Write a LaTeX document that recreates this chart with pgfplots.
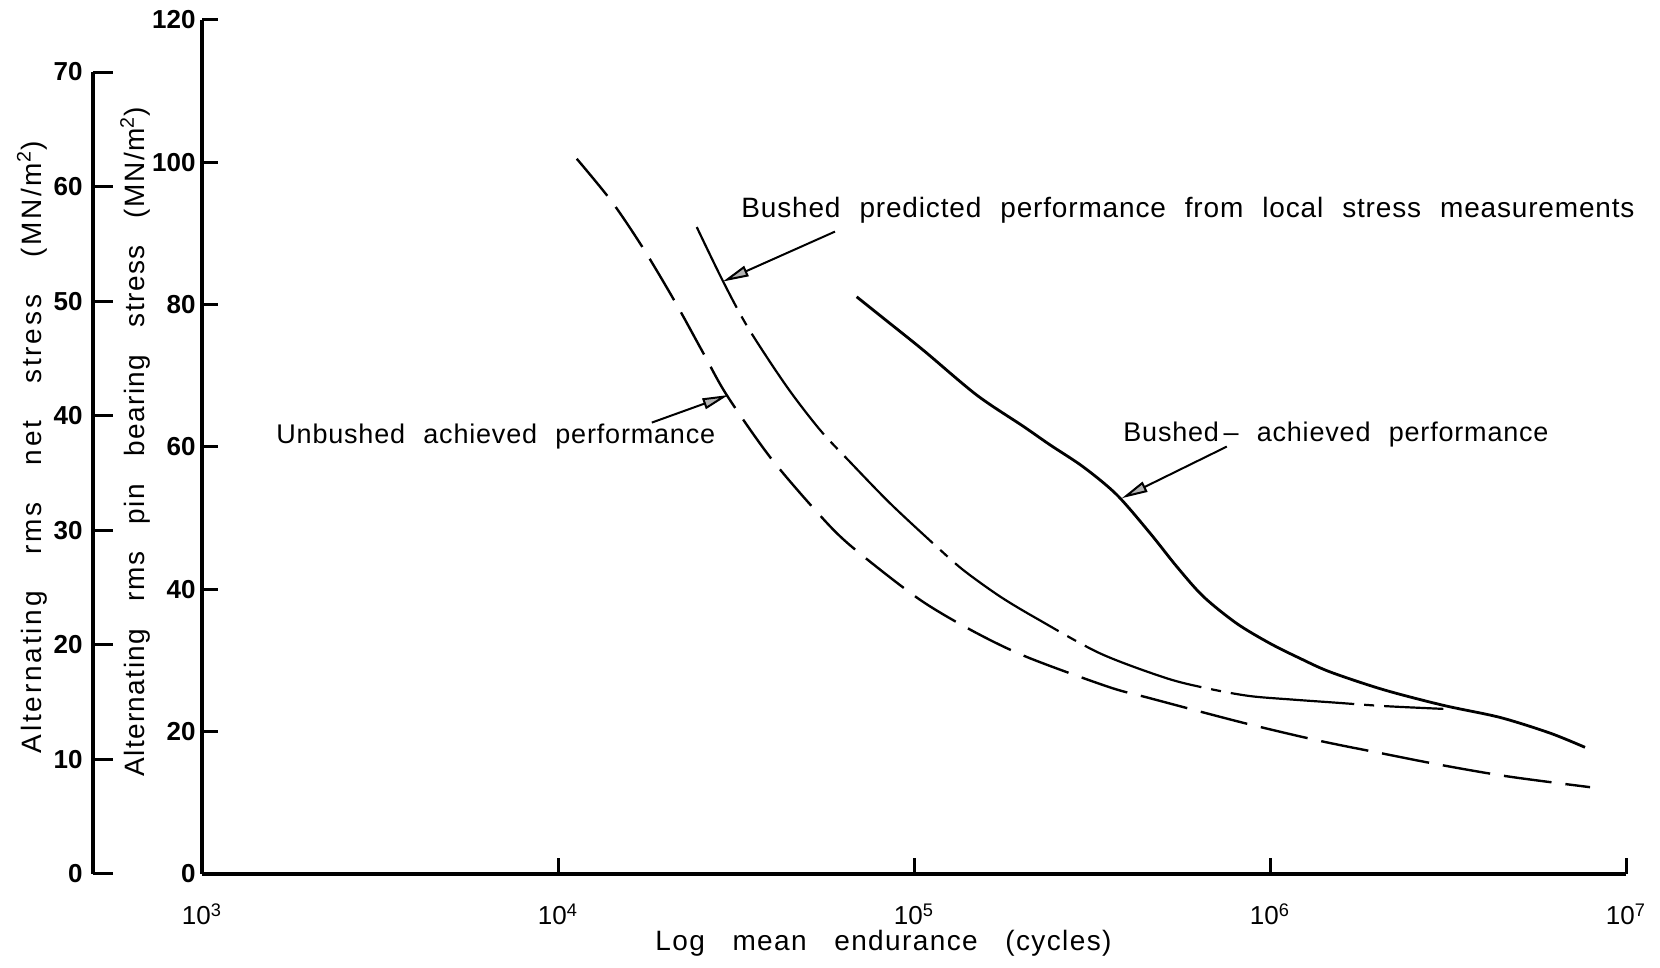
\documentclass[border=0pt]{standalone}
\usepackage{fontspec}
\setmainfont{Liberation Sans}
\newfontfamily\lblfont{Liberation Sans}[LetterSpace=5,WordSpace=3]
\newfontfamily\lblwide{Liberation Sans}[LetterSpace=10,WordSpace=3.5]
\newfontfamily\annfont{Liberation Sans}[LetterSpace=3,WordSpace=2.2]
\usepackage{pgfplots}
\pgfplotsset{compat=1.18}
\usetikzlibrary{arrows.meta}

\newcommand{\tkfont}{\fontsize{13}{13}\selectfont\bfseries}
\newcommand{\lbl}{\lblfont\fontsize{14}{16}\selectfont}
\newcommand{\lblw}{\lblwide\fontsize{14}{16}\selectfont}

\begin{document}
\begin{tikzpicture}
\useasboundingbox (-101pt,-47pt) rectangle (729pt,437pt);

% outer scale: net stress
\begin{axis}[
    at={(-54.5pt,0pt)}, anchor=south west,
    scale only axis, width=1pt, height=401pt,
    xmin=0, xmax=1, ymin=0, ymax=70,
    axis y line=left, axis x line=none,
    axis line style={-, line width=2pt},
    xtick=\empty,
    ytick={0,10,...,70},
    tick align=inside, major tick length=10pt,
    tick style={line width=1.5pt, black},
    /pgf/number format/assume math mode=true,
    yticklabel style={font=\tkfont, anchor=east, inner sep=0pt, xshift=-5pt},
    ylabel={Alternating rms net stress (MN/m\textsuperscript{2})},
    ylabel style={font=\lblw, at={(axis description cs:-30.5,0.532)}, anchor=center},
]
\end{axis}

% main axis: pin bearing stress
\begin{axis}[
    at={(0pt,0pt)}, anchor=south west,
    scale only axis, width=712pt, height=427pt,
    xmode=log, xmin=1e3, xmax=1e7, ymin=0, ymax=120,
    axis lines=left,
    axis line style={-, line width=2pt},
    xtick={1e3,1e4,1e5,1e6,1e7},
    xticklabels={10\textsuperscript{3},10\textsuperscript{4},10\textsuperscript{5},10\textsuperscript{6},10\textsuperscript{7}},
    xminorticks=false,
    ytick={0,20,...,120},
    tick align=inside, major tick length=8pt,
    tick style={line width=1.5pt, black},
    /pgf/number format/assume math mode=true,
    yticklabel style={font=\tkfont, anchor=east, inner sep=0pt, xshift=-3pt},
    xticklabel style={font=\fontsize{13}{13}\selectfont, anchor=base, inner sep=0pt, yshift=-25.5pt},
    xlabel={Log mean endurance (cycles)},
    xlabel style={font=\lbl, at={(axis description cs:0.4786,0)}, anchor=base, yshift=-38.5pt},
    ylabel={Alternating rms pin bearing stress (MN/m\textsuperscript{2})},
    ylabel style={font=\lbl, at={(axis description cs:-0.047,0.506)}, anchor=center},
    clip=false,
]
% unbushed achieved performance
\addplot[black, line width=1.2pt, smooth, dash pattern=on 24pt off 7pt] coordinates {
 (1.129e4,100.5) (1.415e4,94.5) (1.736e4,87.9) (2.132e4,80.4) (2.559e4,73.2)
 (2.978e4,67.3) (3.939e4,58.6) (5.329e4,50.9) (6.610e4,46.2) (1.028e5,38.7)
 (1.468e5,34.1) (2.073e5,30.5) (3.514e5,26.3) (4.602e5,24.7) (8.326e5,21.3)
 (1.353e6,18.8) (2.037e6,17.0) (3.036e6,15.3) (4.670e6,13.7) (7.925e6,12.2)
};
% bushed predicted performance
\addplot[black, line width=1.1pt, smooth, dash pattern=on 62pt off 5pt on 5pt off 5pt, dash phase=17pt] coordinates {
 (2.453e4,90.9) (2.913e4,83.2) (3.424e4,76.7) (4.389e4,68.5) (5.445e4,62.4)
 (6.610e4,57.9) (8.562e4,52.1) (1.146e5,46.2) (1.376e5,42.7) (1.744e5,39.0)
 (2.211e5,35.9) (3.331e5,31.0) (5.128e5,27.5) (6.785e5,26.0) (8.785e5,25.0)
 (1.162e6,24.5) (1.506e6,24.1) (2.082e6,23.6) (3.068e6,23.2)
};
% bushed achieved performance
\addplot[black, line width=1.4pt, smooth] coordinates {
 (6.902e4,81.1) (8.202e4,78.1) (1.062e5,73.6) (1.500e5,67.3) (2.028e5,62.9)
 (2.410e5,60.3) (2.989e5,57.2) (3.710e5,53.3) (4.602e5,47.9) (5.470e5,43.2)
 (6.494e5,39.0) (8.064e5,35.2) (1.000e6,32.4) (1.214e6,30.3) (1.474e6,28.4)
 (2.082e6,25.9) (3.068e6,23.7) (4.427e6,22.0) (6.117e6,19.8) (7.671e6,17.8)
};
\end{axis}

% annotations
\tikzset{ptr/.style={line width=1pt, -{Triangle[length=13pt,width=5.5pt,fill=gray!60]}}}
\node[font=\annfont\fontsize{14}{16}\selectfont, anchor=base west, inner sep=0pt] at (269.5pt,328.3pt)
  {Bushed predicted performance from local stress measurements};
\draw[ptr] (316.5pt,321.2pt) -- (260.4pt,296.2pt);
\node[font=\annfont\fontsize{13.5}{16}\selectfont, anchor=base west, inner sep=0pt] at (37pt,215pt)
  {Unbushed achieved performance};
\draw[ptr] (224.9pt,225.7pt) -- (263.2pt,239.5pt);
\node[font=\annfont\fontsize{13.5}{16}\selectfont, anchor=base west, inner sep=0pt] at (460.5pt,216.2pt)
  {Bushed\,\textendash\ achieved performance};
\draw[ptr] (512.4pt,213.7pt) -- (459.9pt,187.9pt);
\end{tikzpicture}
\end{document}
